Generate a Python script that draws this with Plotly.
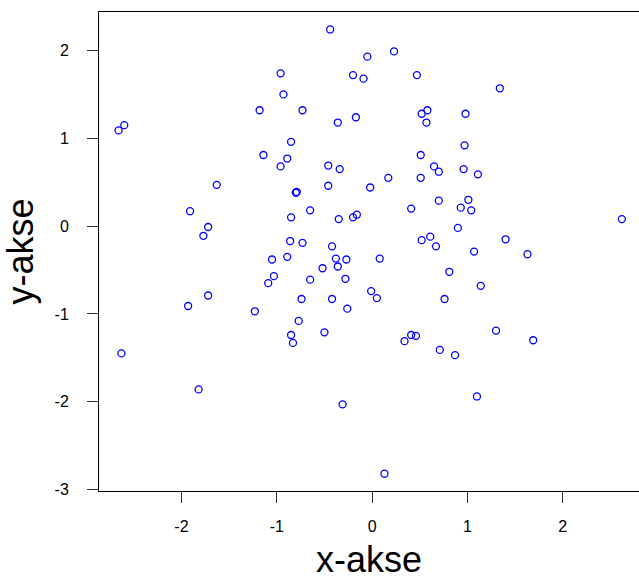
import plotly.graph_objects as go

# 100 sample points (x, y)
x_vals = [
    -2.66, -2.60, -2.63, -1.93, -1.91, -1.77, -1.72, -1.63, -1.72, -1.82,
    -1.18, -1.14, -1.23, -1.05, -1.03, -1.09, -0.96, -0.96, -0.93, -0.89,
    -0.85, -0.79, -0.80, -0.85, -0.86, -0.73, -0.65, -0.73, -0.89, -0.52,
    -0.65, -0.74, -0.77, -0.85, -0.83, -0.44, 0.23, -0.05, -0.20, -0.09,
    0.47, 0.58, 0.52, -0.36, -0.17, 0.57, 0.51, -0.46, -0.34, 0.65,
    0.70, 0.17, 0.51, -0.46, -0.02, 0.70, 0.41, -0.35, -0.20, -0.16,
    0.90, -0.42, 0.52, 0.61, 0.67, 1.34, 0.98, 0.97, 0.96, 1.11,
    1.01, 0.93, 1.04, 2.62, 1.40, 1.07, -0.38, -0.27, 0.08, -0.36,
    -0.28, 0.81, -0.01, 0.05, -0.42, -0.26, 0.76, -0.50, 0.34, 0.41,
    0.46, 0.71, 0.87, -0.31, 0.13, 1.63, 1.14, 1.30, 1.69, 1.10,
]
y_vals = [
    1.09, 1.15, -1.45, -0.91, 0.17, -0.11, -0.01, 0.47, -0.79, -1.86,
    1.32, 0.81, -0.97, -0.38, -0.57, -0.65, 1.74, 0.68, 1.50, 0.77,
    0.96, 0.39, 0.38, 0.10, -0.17, 1.32, 0.18, -0.19, -0.35, -0.48,
    -0.61, -0.83, -1.08, -1.24, -1.33, 2.24, 1.99, 1.93, 1.72, 1.68,
    1.72, 1.32, 1.28, 1.18, 1.24, 1.18, 0.81, 0.69, 0.65, 0.68,
    0.62, 0.55, 0.55, 0.46, 0.44, 0.29, 0.20, 0.08, 0.10, 0.13,
    -0.02, -0.23, -0.16, -0.12, -0.23, 1.57, 1.28, 0.92, 0.65, 0.59,
    0.30, 0.21, 0.18, 0.08, -0.15, -0.29, -0.37, -0.38, -0.37, -0.46,
    -0.60, -0.52, -0.74, -0.82, -0.83, -0.94, -0.83, -1.21, -1.31, -1.24,
    -1.25, -1.41, -1.47, -2.03, -2.82, -0.32, -0.68, -1.19, -1.30, -1.94,
]

x_ticks = [-2, -1, 0, 1, 2]
y_ticks = [-3, -2, -1, 0, 1, 2]

FONT = "Liberation Sans, Arial, sans-serif"

fig = go.Figure(
    go.Scatter(
        x=x_vals,
        y=y_vals,
        mode="markers",
        marker=dict(
            symbol="circle-open",
            size=7,
            color="#0000FF",
            line=dict(width=1.3, color="#0000FF"),
        ),
        hoverinfo="x+y",
    )
)

axis_common = dict(
    showgrid=False,
    zeroline=False,
    showline=True,
    linecolor="black",
    linewidth=1,
    ticks="outside",
    ticklen=11,
    tickwidth=1,
    tickcolor="#333333",
    tickfont=dict(family=FONT, size=16, color="black"),
)

fig.update_xaxes(
    **axis_common,
    range=[-2.865, 2.80],
    tickvals=x_ticks,
    ticktext=[str(v) for v in x_ticks],
    ticklabelstandoff=10,
    mirror=True,
    title=dict(text="x-akse", font=dict(family=FONT, size=36, color="black"), standoff=16),
)
fig.update_yaxes(
    **axis_common,
    range=[-3.017, 2.439],
    tickvals=y_ticks,
    ticktext=[str(v) for v in y_ticks],
    ticklabelstandoff=15,
    title=dict(text="y-akse", font=dict(family=FONT, size=36, color="black"), standoff=11),
)

fig.update_layout(
    width=639,
    height=580,
    margin=dict(l=99, r=0, t=12, b=89),
    paper_bgcolor="white",
    plot_bgcolor="white",
    showlegend=False,
)

fig.write_html("out.html")
